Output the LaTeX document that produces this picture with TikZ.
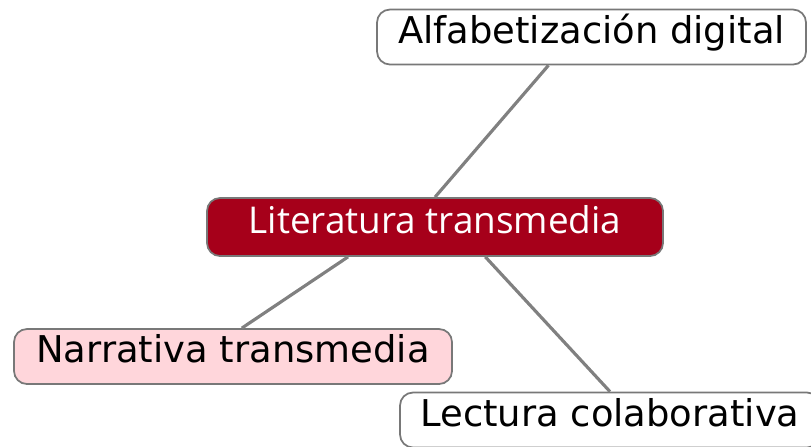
\documentclass[tikz,border=0pt]{standalone}
\usepackage{fontspec}
\setmainfont{DejaVu Sans}
\newfontfamily\centrefont{Open Sans}
\usetikzlibrary{calc}
\definecolor{litred}{RGB}{166,0,26}
\definecolor{narrpink}{RGB}{255,214,219}
\definecolor{linkgray}{RGB}{128,128,128}
\definecolor{boxgray}{RGB}{120,120,120}

\begin{document}
\begin{tikzpicture}[
  topic/.style={draw=boxgray, line width=0.5pt, rounded corners=0.13cm, fill=white,
    minimum height=0.55cm, inner sep=0pt, text height=0.25cm, text depth=0.13cm,
    font=\fontsize{10.5}{12}\selectfont},
  link/.style={draw=linkgray, line width=0.9pt}
  ]
  \useasboundingbox (0,0) rectangle (8.11,4.46);

  \node[topic, minimum width=4.29cm] (alfa) at (5.915,4.09) {Alfabetización digital};
  \node[topic, minimum width=4.56cm, minimum height=0.58cm, fill=litred, text=white,
    font=\centrefont\fontsize{10.5}{12}\selectfont] (lit) at (4.35,2.19) {Literatura transmedia};
  \node[topic, minimum width=4.38cm, fill=narrpink] (narr) at (2.33,0.895) {Narrativa transmedia};
  \node[topic, minimum width=4.2cm] (lect) at (6.1,0.26) {Lectura colaborativa};

  \draw[link] (lit.north) -- ($(alfa.south west)!0.4!(alfa.south east)$);
  \draw[link] ($(lit.south west)!0.31!(lit.south east)$) -- ($(narr.north west)!0.52!(narr.north east)$);
  \draw[link] ($(lit.south west)!0.61!(lit.south east)$) -- (lect.north);

\end{tikzpicture}
\end{document}
